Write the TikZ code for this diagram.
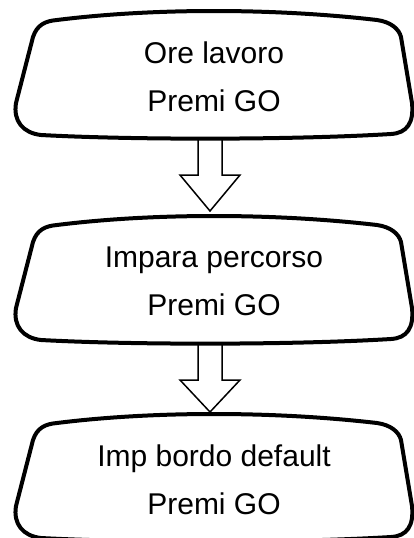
\documentclass[tikz,border=0pt]{standalone}
\usepackage{fontspec}
\setmainfont{Liberation Sans}
\usetikzlibrary{positioning}

\tikzset{
  panelline/.style={line width=4pt,line join=round},
  hollow/.style={line width=1.5pt,line join=miter},
  paneltext/.style={align=center,inner sep=0pt,font=\fontsize{30}{48}\selectfont},
  panel/.pic={
    \draw[panelline] (-156,9) .. controls (-60,-3) and (60,-3) .. (164,9)
      .. controls (178,11) and (186,18) .. (188,26) -- (199,92)
      .. controls (201,112) and (194,122) .. (178,123)
      .. controls (80,129) and (-80,129) .. (-172,124)
      .. controls (-190,122) and (-200,110) .. (-197,92) -- (-180,26)
      .. controls (-176,14) and (-168,10) .. cycle;
    \coordinate (-top) at (0,0);
    \coordinate (-bot) at (0,127);
  }
}

\begin{document}
\begin{tikzpicture}[x=1pt,y=-1pt]
\useasboundingbox (0,0) rectangle (414,538);
% the three display panels
\pic (p1) at (213,11) {panel};
\pic (p2) at (213,216) {panel};
\pic (p3) at (213,414) {panel};
\node[paneltext,below=31pt of p1-top,xshift=1pt] (ore) {Ore lavoro\\Premi GO};
\node[paneltext,below=31pt of p2-top,xshift=1pt] (impara) {Impara percorso\\Premi GO};
\node[paneltext,below=31pt of p3-top,xshift=1pt] (bordo) {Imp bordo default\\Premi GO};
% hollow arrows between panels
\draw[hollow] (p1-bot) ++(-15,2) -- ++(0,35) -- ++(-18,0) -- ++(30,36) -- ++(30,-36) -- ++(-18,0) -- ++(0,-35);
\draw[hollow] (p2-bot) ++(-15,2) -- ++(0,35) -- ++(-18,0) -- ++(30,32) -- ++(30,-32) -- ++(-18,0) -- ++(0,-35);
\end{tikzpicture}
\end{document}
